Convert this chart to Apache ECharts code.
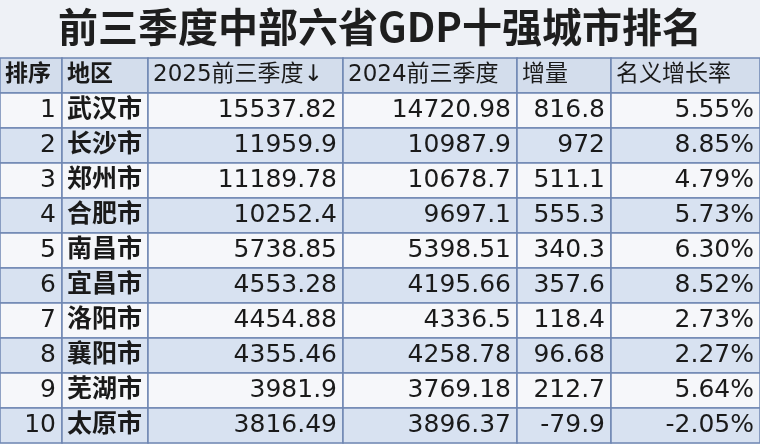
<!DOCTYPE html>
<html><head><meta charset="utf-8">
<script src="https://cdn.jsdelivr.net/npm/echarts@6/dist/echarts.min.js"></script>
<style>html,body{margin:0;padding:0;background:#eef1f6}#c{width:760px;height:444px}</style>
</head><body><div id="c"></div>
<script>
const headers = ['排序','地区','2025前三季度↓','2024前三季度','增量','名义增长率'];
const ranks = ['1','2','3','4','5','6','7','8','9','10'];
const cities = ['武汉市','长沙市','郑州市','合肥市','南昌市','宜昌市','洛阳市','襄阳市','芜湖市','太原市'];
const gdp2025 = ['15537.82','11959.9','11189.78','10252.4','5738.85','4553.28','4454.88','4355.46','3981.9','3816.49'];
const gdp2024 = ['14720.98','10987.9','10678.7','9697.1','5398.51','4195.66','4336.5','4258.78','3769.18','3896.37'];
const increase = ['816.8','972','511.1','555.3','340.3','357.6','118.4','96.68','212.7','-79.9'];
const growth = ['5.55%','8.85%','4.79%','5.73%','6.30%','8.52%','2.73%','2.27%','5.64%','-2.05%'];

const COL_EDGES = [0, 62, 148, 343, 517, 611, 760];
const columns = [ranks, cities, gdp2025, gdp2024, increase, growth];
const rowCats = ['h'].concat(ranks);
const cells = [];
headers.forEach((h, c) => cells.push([c, 0, h]));
for (let r = 0; r < 10; r++) for (let c = 0; c < 6; c++) cells.push([c, r + 1, columns[c][r]]);

const chart = echarts.init(document.getElementById('c'));
chart.setOption({
  backgroundColor: '#eef1f6',
  title: {text: '前三季度中部六省GDP十强城市排名', left: 'center', top: 2,
    textStyle: {fontFamily: 'Noto Sans CJK SC', fontWeight: 'bold', fontSize: 40, color: '#1e1e1e'}},
  grid: {left: 0, right: 0, top: 58, bottom: 1},
  xAxis: {type: 'value', min: 0, max: 760, show: false},
  yAxis: {type: 'category', data: rowCats, inverse: true, show: false},
  series: [{
    type: 'custom', data: cells,
    renderItem: function (params, api) {
      const c = api.value(0), r = api.value(1), txt = cells[params.dataIndex][2];
      const p0 = api.coord([COL_EDGES[c], r]);
      const p1 = api.coord([COL_EDGES[c + 1], r]);
      const h = api.size([0, 1])[1];
      const x = p0[0], y = p0[1] - h / 2, w = p1[0] - p0[0];
      const isHead = r === 0;
      const fill = isHead ? '#d3ddec' : (r % 2 === 1 ? '#f6f7fa' : '#d8e2f1');
      const leftAlign = isHead || c === 1;
      const bold = (isHead && c < 2) || c === 1;
      return {type: 'group', children: [
        {type: 'rect', shape: {x: x, y: y, width: w, height: h},
          style: {fill: fill, stroke: '#6f86b3', lineWidth: 1.5}},
        {type: 'text', x: leftAlign ? x + 5 : x + w - 6, y: y + h / 2,
          style: {text: txt, align: leftAlign ? 'left' : 'right', verticalAlign: 'middle',
            fontFamily: '"DejaVu Sans", "Noto Sans CJK SC"', fontSize: isHead ? 23 : 25,
            fontWeight: bold ? 'bold' : 'normal', fill: '#1a1a1a'}}
      ]};
    }
  }]
});
</script></body></html>
